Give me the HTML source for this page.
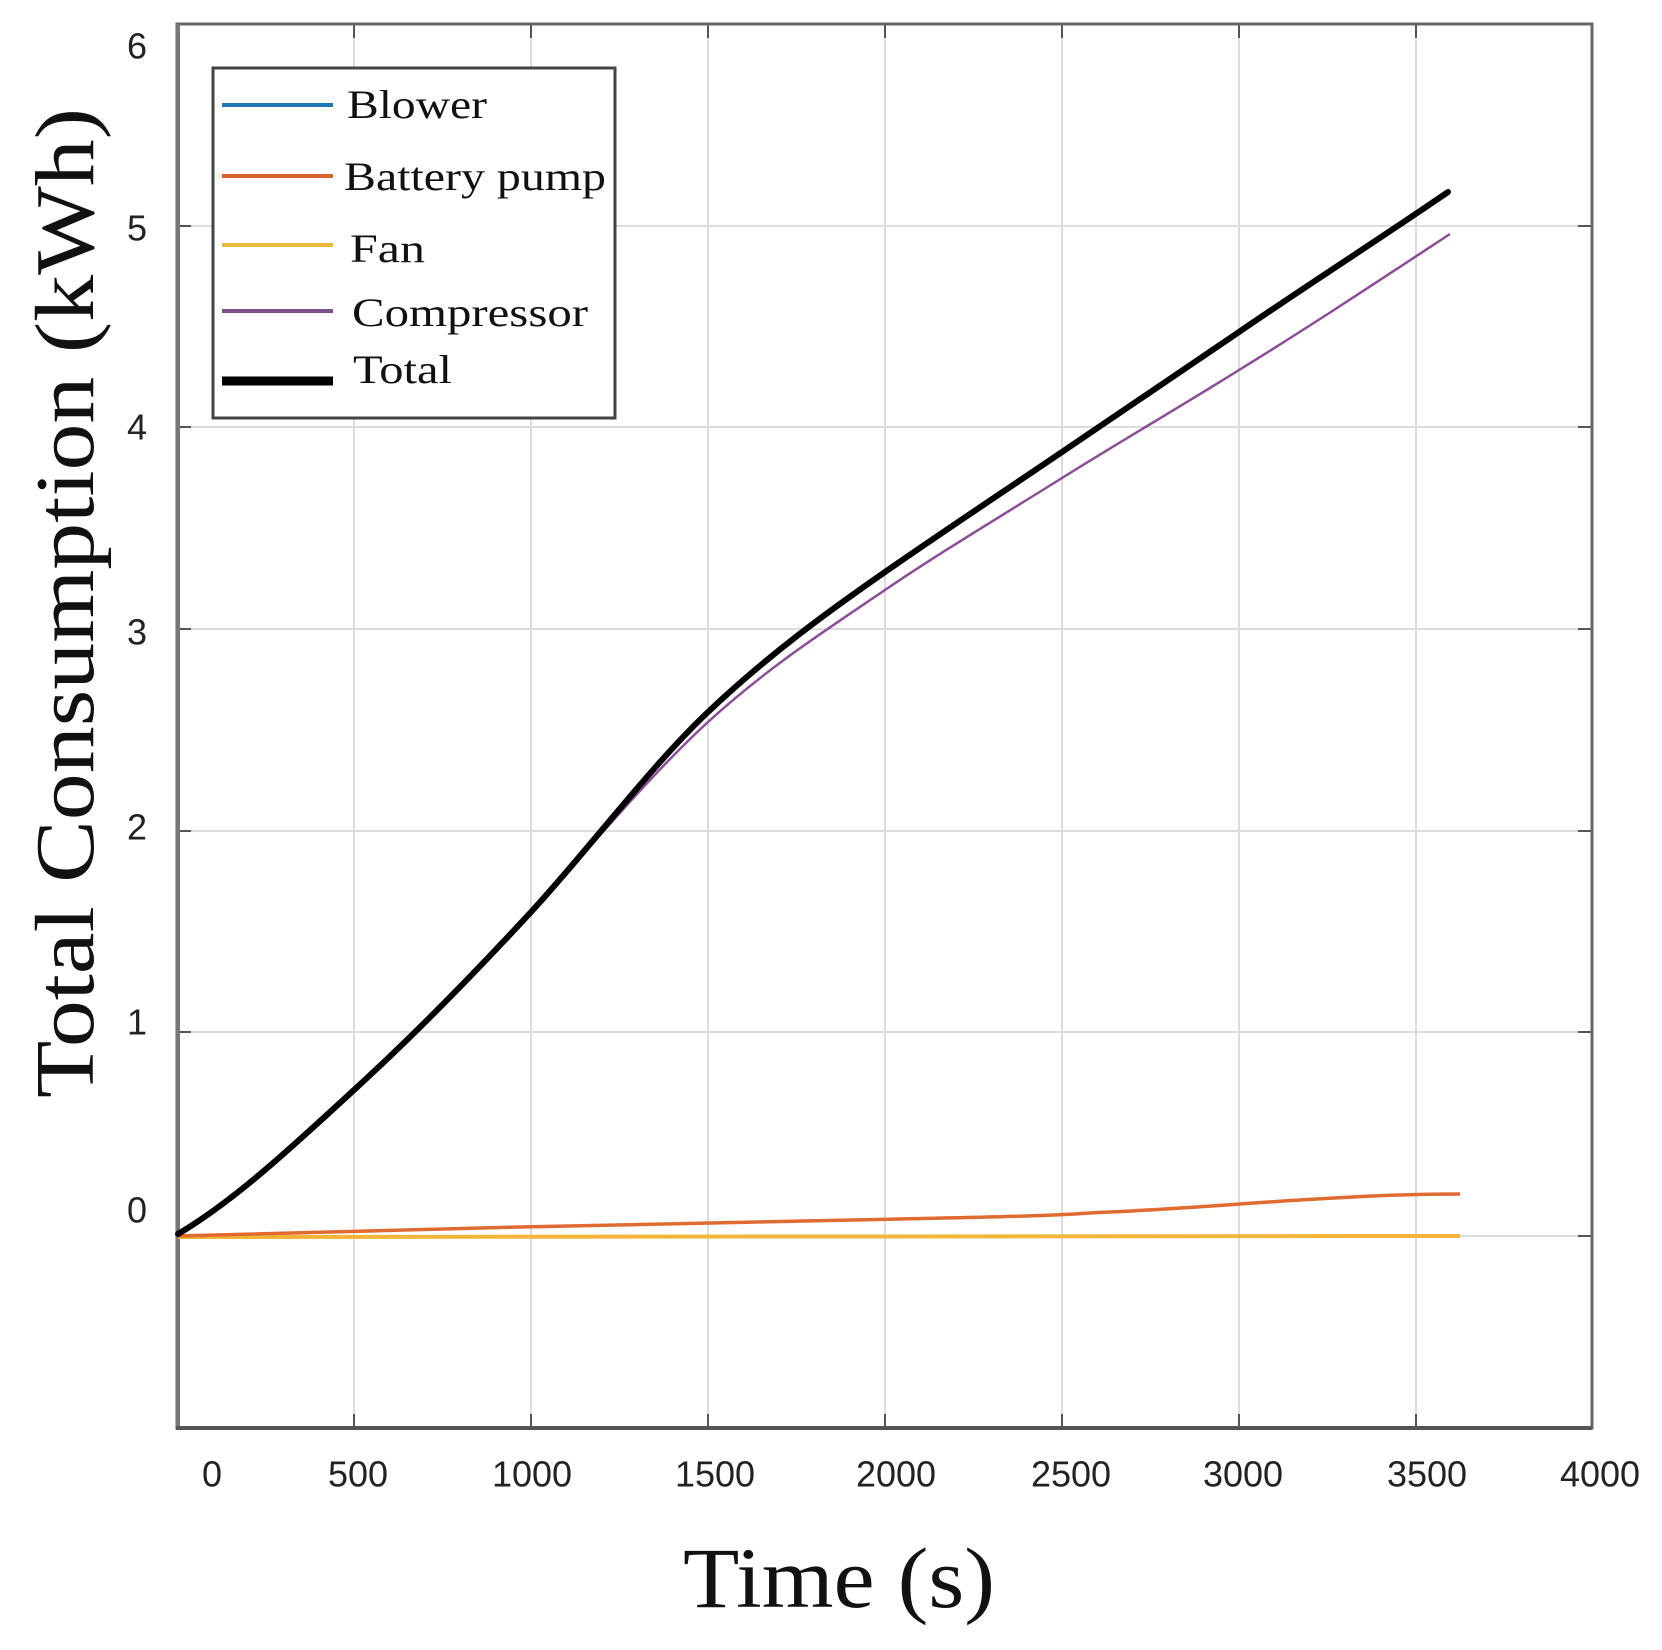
<!DOCTYPE html>
<html><head><meta charset="utf-8"><style>html,body{margin:0;padding:0;background:#fff}svg{display:block}</style></head>
<body>
<svg width="1662" height="1650" viewBox="0 0 1662 1650" xmlns="http://www.w3.org/2000/svg">
<rect width="1662" height="1650" fill="#fff"/>
<g stroke="#dcdcdc" stroke-width="2">
<line x1="354" y1="24" x2="354" y2="1428"/><line x1="531" y1="24" x2="531" y2="1428"/>
<line x1="708" y1="24" x2="708" y2="1428"/><line x1="885" y1="24" x2="885" y2="1428"/>
<line x1="1062" y1="24" x2="1062" y2="1428"/><line x1="1239" y1="24" x2="1239" y2="1428"/>
<line x1="1416" y1="24" x2="1416" y2="1428"/>
<line x1="177" y1="226" x2="1592" y2="226"/><line x1="177" y1="427" x2="1592" y2="427"/>
<line x1="177" y1="629" x2="1592" y2="629"/><line x1="177" y1="831" x2="1592" y2="831"/>
<line x1="177" y1="1032" x2="1592" y2="1032"/><line x1="177" y1="1236" x2="1592" y2="1236"/>
</g>
<g stroke="#555" stroke-width="2">
<path d="M354 1428v-14M531 1428v-14M708 1428v-14M885 1428v-14M1062 1428v-14M1239 1428v-14M1416 1428v-14"/>
<path d="M354 24v14M531 24v14M708 24v14M885 24v14M1062 24v14M1239 24v14M1416 24v14"/>
<path d="M177 226h14M177 427h14M177 629h14M177 831h14M177 1032h14M177 1236h14"/>
<path d="M1592 226h-14M1592 427h-14M1592 629h-14M1592 831h-14M1592 1032h-14M1592 1236h-14"/>
</g>
<rect x="177" y="24" width="1415" height="1404" fill="none" stroke="#666" stroke-width="3"/>
<line x1="178" y1="24" x2="178" y2="1430" stroke="#777" stroke-width="4"/>
<line x1="176" y1="1428" x2="1592" y2="1428" stroke="#555" stroke-width="4"/>
<!-- series -->
<path fill="none" stroke="#f2b53a" stroke-width="4" d="M178,1237 L1460,1236"/>
<path fill="none" stroke="#e06a30" stroke-width="3.5" d="M178,1236 C400,1229 700,1223 900,1219 S1060,1214 1110,1212 S1250,1203 1300,1200 S1400,1194 1460,1194"/>
<path fill="none" stroke="#8a4d96" stroke-width="2.5" d="M178,1234 C237,1199 295,1144 354,1090 C413,1036 472,976 531,912 C590,848 649,776 708,722 C767,668 826,630 885,590 C944,550 1003,515 1062,478 C1121,441 1180,407 1239,370 C1309,327 1380,280 1450,234"/>
<path fill="none" stroke="#000" stroke-width="6" stroke-linecap="round" d="M178,1234 C237,1199 295,1144 354,1090 C413,1036 472,976 531,912 C590,848 649,768 708,712 C767,656 826,613 885,572 C944,531 1003,492 1062,452 C1121,412 1180,372 1239,332 C1309,284 1378,240 1448,192"/>
<!-- legend -->
<rect x="213" y="68" width="402" height="350" fill="#fff" stroke="#444" stroke-width="3"/>
<g stroke-width="4">
<line x1="222" y1="105" x2="333" y2="105" stroke="#1f77b4"/>
<line x1="222" y1="176" x2="333" y2="176" stroke="#d9642b"/>
<line x1="222" y1="245" x2="333" y2="245" stroke="#e8b93a"/>
<line x1="222" y1="311" x2="333" y2="311" stroke="#7e4f8e"/>
<line x1="222" y1="381" x2="333" y2="381" stroke="#000" stroke-width="9"/>
</g>
<g font-family="Liberation Serif, serif" font-size="40" fill="#111">
<text x="347" y="118" textLength="140" lengthAdjust="spacingAndGlyphs">Blower</text>
<text x="344" y="190" textLength="262" lengthAdjust="spacingAndGlyphs">Battery pump</text>
<text x="350" y="262" textLength="75" lengthAdjust="spacingAndGlyphs">Fan</text>
<text x="352" y="326" textLength="236" lengthAdjust="spacingAndGlyphs">Compressor</text>
<text x="353" y="383" textLength="99" lengthAdjust="spacingAndGlyphs">Total</text>
</g>
<!-- tick labels -->
<g font-family="Liberation Sans, sans-serif" font-size="36" fill="#222" text-anchor="middle" dominant-baseline="central">
<text x="137" y="46">6</text><text x="137" y="228">5</text><text x="137" y="427">4</text>
<text x="137" y="632">3</text><text x="137" y="827">2</text><text x="137" y="1022">1</text><text x="137" y="1210">0</text>
<text x="212" y="1474">0</text><text x="358" y="1474">500</text><text x="532" y="1474">1000</text>
<text x="715" y="1474">1500</text><text x="896" y="1474">2000</text><text x="1071" y="1474">2500</text>
<text x="1243" y="1474">3000</text><text x="1427" y="1474">3500</text><text x="1600" y="1474">4000</text>
</g>
<text x="839" y="1607" font-family="Liberation Serif, serif" font-size="86" fill="#111" text-anchor="middle" textLength="312" lengthAdjust="spacingAndGlyphs">Time (s)</text>
<text transform="translate(93,603) rotate(-90)" font-family="Liberation Serif, serif" font-size="84" fill="#111" text-anchor="middle" textLength="990" lengthAdjust="spacingAndGlyphs">Total Consumption (kWh)</text>
</svg>
</body></html>
